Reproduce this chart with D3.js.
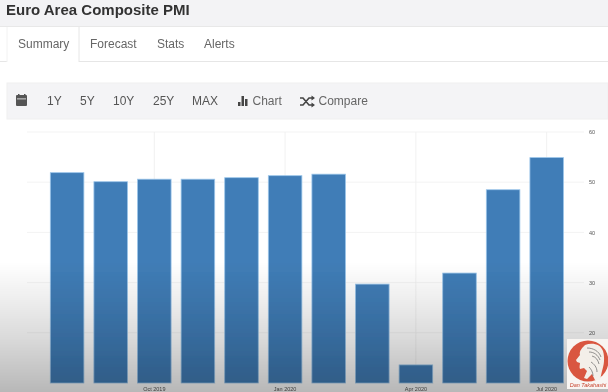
<!DOCTYPE html>
<html>
<head>
<meta charset="utf-8">
<script src="https://cdn.jsdelivr.net/npm/d3@7"></script>
<style>
html, body { margin: 0; padding: 0; background: #fff; overflow: hidden; }
svg { display: block; font-family: "Liberation Sans", Arial, sans-serif; }
.domain { display: none; }
</style>
</head>
<body>
<div id="chart"></div>
<script>
// values
const months = ["Aug 2019", "Sep 2019", "Oct 2019", "Nov 2019", "Dec 2019", "Jan 2020",
    "Feb 2020", "Mar 2020", "Apr 2020", "May 2020", "Jun 2020", "Jul 2020"];
const pmi = [51.9, 50.1, 50.6, 50.6, 50.9, 51.3, 51.6, 29.7, 13.6, 31.9, 48.5, 54.9];
const xLabels = ["Oct 2019", "Jan 2020", "Apr 2020", "Jul 2020"];
const yTicks = [20, 30, 40, 50, 60];
const tabs = ["Summary", "Forecast", "Stats", "Alerts"];
const ranges = ["1Y", "5Y", "10Y", "25Y", "MAX"];

const width = 608, height = 392;
const svg = d3.select("#chart").append("svg")
    .attr("width", width)
    .attr("height", height);

const defs = svg.append("defs");

// dark fade along the bottom of the video frame
const fade = defs.append("linearGradient")
    .attr("id", "fade")
    .attr("x1", 0).attr("y1", 0).attr("x2", 0).attr("y2", 1);
[[0, 0], [0.3, 0.07], [0.6, 0.15], [1, 0.28]].forEach(([o, a]) => {
    fade.append("stop").attr("offset", o).attr("stop-color", "#000").attr("stop-opacity", a);
});

defs.append("filter").attr("id", "soft")
    .append("feGaussianBlur").attr("stdDeviation", 0.5);

const page = svg.append("g").attr("filter", "url(#soft)");

// title band
page.append("rect").attr("width", width).attr("height", 26).attr("fill", "#f3f3f5");
page.append("rect").attr("y", 26).attr("width", width).attr("height", 1).attr("fill", "#e8e8e8");
page.append("text")
    .attr("x", 6).attr("y", 14.5)
    .attr("fill", "#333")
    .style("font-size", "15px")
    .style("font-weight", "bold")
    .text("Euro Area Composite PMI");

// tabs
page.append("rect").attr("y", 61).attr("width", width).attr("height", 1).attr("fill", "#e6e6e6");
page.append("rect").attr("x", 7).attr("y", 27).attr("width", 72).attr("height", 36).attr("fill", "#fff");
page.append("path").attr("d", "M7 27V62").attr("stroke", "#f2f2f2").attr("fill", "none");
page.append("path").attr("d", "M79 27V62").attr("stroke", "#e6e6e6").attr("fill", "none");
const tabX = [18, 90, 157, 204];
tabs.forEach((t, i) => {
    page.append("text")
        .attr("x", tabX[i]).attr("y", 48)
        .attr("fill", "#666")
        .style("font-size", "12px")
        .text(t);
});

// toolbar
page.append("rect").attr("x", 7).attr("y", 83).attr("width", 601).attr("height", 36)
    .attr("fill", "#f4f4f6").attr("stroke", "#f0f0f0");

const cal = page.append("g").attr("fill", "#555");
cal.append("rect").attr("x", 16).attr("y", 95).attr("width", 11).attr("height", 11).attr("rx", 1);
cal.append("rect").attr("x", 17).attr("y", 98.5).attr("width", 9).attr("height", 0.8).attr("fill", "#f4f4f6");
cal.append("rect").attr("x", 18).attr("y", 94).attr("width", 1.5).attr("height", 2);
cal.append("rect").attr("x", 24).attr("y", 94).attr("width", 1.5).attr("height", 2);

const rangeX = [47, 80, 113, 153, 192];
ranges.forEach((r, i) => {
    page.append("text")
        .attr("x", rangeX[i]).attr("y", 105)
        .attr("fill", "#555")
        .style("font-size", "12px")
        .text(r);
});

// bar icon
const barIcon = page.append("g").attr("fill", "#444");
barIcon.append("rect").attr("x", 238).attr("y", 102).attr("width", 2.5).attr("height", 4);
barIcon.append("rect").attr("x", 241.5).attr("y", 96).attr("width", 2.5).attr("height", 10);
barIcon.append("rect").attr("x", 245).attr("y", 99).attr("width", 2.5).attr("height", 7);
page.append("text").attr("x", 252.5).attr("y", 105).attr("fill", "#666")
    .style("font-size", "12px").text("Chart");

// shuffle icon
page.append("path")
    .attr("d", "M300 98h3l6 7h3M300 105h3l6-7h3")
    .attr("fill", "none").attr("stroke", "#444").attr("stroke-width", 1.6);
page.append("path")
    .attr("d", "M311.5 95.5l3.5 2.5l-3.5 2.5zM311.5 102.5l3.5 2.5l-3.5 2.5z")
    .attr("fill", "#444");
page.append("text").attr("x", 318.5).attr("y", 105).attr("fill", "#666")
    .style("font-size", "12px").text("Compare");

// scales
const x = d3.scaleBand()
    .domain(months)
    .range([45.3, 568.5])
    .paddingInner(0.23)
    .paddingOuter(0.115);

const y = d3.scaleLinear()
    .domain([10, 60])
    .range([383, 132]);

// grid
page.append("g")
    .selectAll("line")
    .data(yTicks)
    .join("line")
    .attr("x1", 27)
    .attr("x2", 584)
    .attr("y1", d => y(d))
    .attr("y2", d => y(d))
    .attr("stroke", "#f3f3f3");

page.append("g")
    .selectAll("line")
    .data(xLabels)
    .join("line")
    .attr("x1", d => x(d) + x.bandwidth() / 2)
    .attr("x2", d => x(d) + x.bandwidth() / 2)
    .attr("y1", y(60))
    .attr("y2", y(10))
    .attr("stroke", "#f1f1f1");

// bars
page.append("g")
    .selectAll("rect")
    .data(months)
    .join("rect")
    .attr("x", d => x(d))
    .attr("y", (d, i) => y(pmi[i]))
    .attr("width", x.bandwidth())
    .attr("height", (d, i) => y(10) - y(pmi[i]))
    .attr("fill", "#407db7")
    .attr("stroke", "#9cc6ea")
    .attr("stroke-width", 0.8);

// axes
const yAxis = page.append("g")
    .attr("transform", "translate(589,0)")
    .call(d3.axisRight(y).tickValues(yTicks).tickSize(0).tickPadding(0));
yAxis.selectAll("text").attr("fill", "#555").style("font-size", "5.5px");

const xAxis = page.append("g")
    .attr("transform", "translate(0,383)")
    .call(d3.axisBottom(x).tickValues(xLabels).tickSize(0).tickPadding(4));
xAxis.selectAll("text").attr("fill", "#555").style("font-size", "5.5px");

// shadow over the lower part of the frame
page.append("rect")
    .attr("y", 262)
    .attr("width", width)
    .attr("height", height - 262)
    .attr("fill", "url(#fade)");

// channel logo
const logo = page.append("g");
logo.append("rect").attr("x", 567).attr("y", 339).attr("width", 41).attr("height", 50).attr("fill", "#f8f5f2");
logo.append("circle").attr("cx", 588).attr("cy", 361).attr("r", 20.5).attr("fill", "#d9573f");
logo.append("path")
    .attr("d", "M585 345c7-3 16-1 18 6c2 7 1 14-1 20l-2 9l-5 0l-3-6l-5 5l-3-1l3-7l-3-3l-4 1c-1-2 0-4 0-6l-3-1l-1-2l4-5c-1-4 2-7 5-10z")
    .attr("fill", "#f3efe9");
logo.append("path")
    .attr("d", "M587 348c6 0 12 3 14 9M589 352c5 0 9 3 11 8M592 356c4 1 6 4 7 8M591 362c3 2 6 5 6 10M589 367c2 2 4 5 4 9")
    .attr("fill", "none").attr("stroke", "#666").attr("stroke-width", 0.7);
logo.append("text")
    .attr("x", 588).attr("y", 387)
    .attr("text-anchor", "middle")
    .attr("fill", "#c8452f")
    .style("font-size", "5.5px")
    .style("font-style", "italic")
    .text("Dan Takahashi");
</script>
</body>
</html>
